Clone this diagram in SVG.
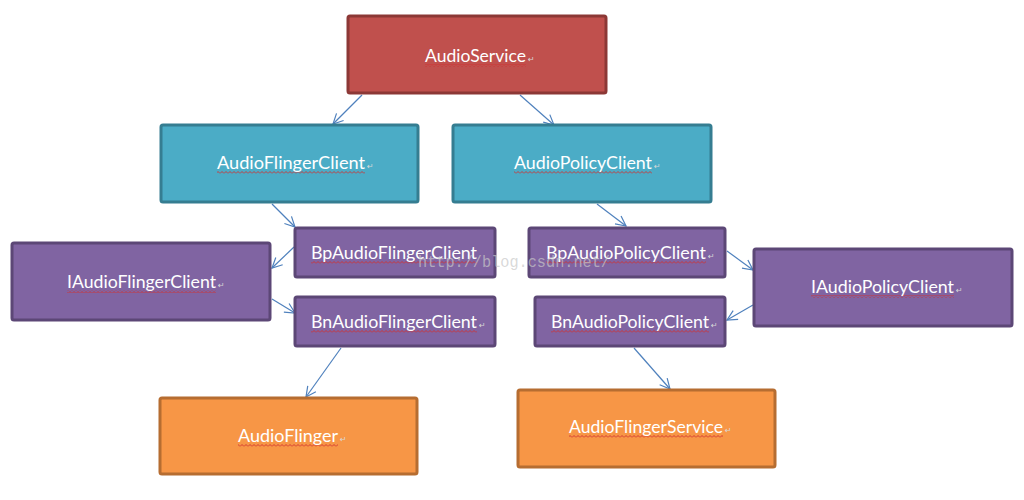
<svg xmlns="http://www.w3.org/2000/svg" width="1024" height="500" viewBox="0 0 1024 500">
<style>
.box{stroke-width:3}
.red{fill:#C0504D;stroke:#8C3836}
.teal{fill:#4BACC6;stroke:#357D91}
.purple{fill:#8064A2;stroke:#5C4776}
.orange{fill:#F79646;stroke:#B66D31}
.lbl{font-family:Lato,"Open Sans","Liberation Sans",sans-serif;font-size:17px;fill:#FFFFFF}
.pm{font-family:"DejaVu Sans",sans-serif;font-size:8px;fill:#D8D8D8}
.conn{stroke:#4F81BD;stroke-width:1.2;fill:none;marker-end:url(#arr)}
.wm{font-family:"Liberation Mono",monospace;font-size:17px;fill:#C8C8C8;fill-opacity:0.7}
</style>
<defs>
<marker id="arr" viewBox="0 0 12 12" refX="11" refY="6" markerWidth="12" markerHeight="12" markerUnits="userSpaceOnUse" orient="auto">
<path d="M1,1 L11,6 L1,11" fill="none" stroke="#4F81BD" stroke-width="1.2"/>
</marker>
<pattern id="wavy" width="4" height="3" patternUnits="userSpaceOnUse">
<path d="M0,2.5 L2,0.5 L4,2.5" fill="none" stroke="#D03030" stroke-width="0.9"/>
</pattern>
</defs>
<rect width="1024" height="500" fill="#FFFFFF"/>
<g id="connectors">
<line class="conn" x1="362" y1="95" x2="333" y2="124"/>
<line class="conn" x1="520" y1="95" x2="554" y2="125"/>
<line class="conn" x1="272" y1="204" x2="295" y2="227"/>
<line class="conn" x1="294" y1="247" x2="272" y2="268"/>
<line class="conn" x1="272" y1="299" x2="295" y2="313"/>
<line class="conn" x1="341" y1="348" x2="306" y2="397"/>
<line class="conn" x1="597" y1="204" x2="626" y2="226"/>
<line class="conn" x1="727" y1="251" x2="753" y2="270"/>
<line class="conn" x1="753" y1="305" x2="727" y2="320"/>
<line class="conn" x1="634" y1="348" x2="670" y2="389"/>
</g>
<g id="AudioService">
<rect class="box red" x="348" y="16" width="258" height="77" rx="2"/>
<rect x="425" y="64" width="101" height="3" fill="url(#wavy)"/>
<text class="lbl" x="425" y="62" textLength="101" lengthAdjust="spacingAndGlyphs">AudioService</text>
<text class="pm" x="528" y="62">↵</text>
</g>
<g id="AudioFlingerClient">
<rect class="box teal" x="161" y="125" width="257" height="77" rx="2"/>
<rect x="217" y="171" width="148" height="3" fill="url(#wavy)"/>
<text class="lbl" x="217" y="169" textLength="148" lengthAdjust="spacingAndGlyphs">AudioFlingerClient</text>
<text class="pm" x="367" y="169">↵</text>
</g>
<g id="AudioPolicyClient">
<rect class="box teal" x="453" y="125" width="258" height="77" rx="2"/>
<rect x="514" y="171" width="138" height="3" fill="url(#wavy)"/>
<text class="lbl" x="514" y="169" textLength="138" lengthAdjust="spacingAndGlyphs">AudioPolicyClient</text>
<text class="pm" x="654" y="169">↵</text>
</g>
<g id="IAudioFlingerClient">
<rect class="box purple" x="12" y="243" width="258" height="77" rx="2"/>
<rect x="67" y="290" width="149" height="3" fill="url(#wavy)"/>
<text class="lbl" x="67" y="288" textLength="149" lengthAdjust="spacingAndGlyphs">IAudioFlingerClient</text>
<text class="pm" x="218" y="288">↵</text>
</g>
<g id="BpAudioFlingerClient">
<rect class="box purple" x="295" y="228" width="200" height="49" rx="2"/>
<rect x="311" y="261" width="166" height="3" fill="url(#wavy)"/>
<text class="lbl" x="311" y="259" textLength="166" lengthAdjust="spacingAndGlyphs">BpAudioFlingerClient</text>
</g>
<g id="BnAudioFlingerClient">
<rect class="box purple" x="295" y="297" width="200" height="49" rx="2"/>
<rect x="311" y="330" width="166" height="3" fill="url(#wavy)"/>
<text class="lbl" x="311" y="328" textLength="166" lengthAdjust="spacingAndGlyphs">BnAudioFlingerClient</text>
<text class="pm" x="479" y="328">↵</text>
</g>
<g id="BpAudioPolicyClient">
<rect class="box purple" x="529" y="228" width="196" height="49" rx="2"/>
<rect x="546" y="261" width="160" height="3" fill="url(#wavy)"/>
<text class="lbl" x="546" y="259" textLength="160" lengthAdjust="spacingAndGlyphs">BpAudioPolicyClient</text>
<text class="pm" x="708" y="259">↵</text>
</g>
<g id="BnAudioPolicyClient">
<rect class="box purple" x="535" y="297" width="190" height="49" rx="2"/>
<rect x="551" y="330" width="158" height="3" fill="url(#wavy)"/>
<text class="lbl" x="551" y="328" textLength="158" lengthAdjust="spacingAndGlyphs">BnAudioPolicyClient</text>
<text class="pm" x="711" y="328">↵</text>
</g>
<g id="IAudioPolicyClient">
<rect class="box purple" x="754" y="249" width="258" height="77" rx="2"/>
<rect x="811" y="295" width="143" height="3" fill="url(#wavy)"/>
<text class="lbl" x="811" y="293" textLength="143" lengthAdjust="spacingAndGlyphs">IAudioPolicyClient</text>
<text class="pm" x="956" y="293">↵</text>
</g>
<g id="AudioFlinger">
<rect class="box orange" x="160" y="398" width="257" height="76" rx="2"/>
<rect x="238" y="444" width="100" height="3" fill="url(#wavy)"/>
<text class="lbl" x="238" y="442" textLength="100" lengthAdjust="spacingAndGlyphs">AudioFlinger</text>
<text class="pm" x="340" y="442">↵</text>
</g>
<g id="AudioFlingerService">
<rect class="box orange" x="518" y="390" width="257" height="77" rx="2"/>
<rect x="569" y="435" width="154" height="3" fill="url(#wavy)"/>
<text class="lbl" x="569" y="433" textLength="154" lengthAdjust="spacingAndGlyphs">AudioFlingerService</text>
<text class="pm" x="725" y="433">↵</text>
</g>
<text class="wm" x="418" y="267" textLength="192" lengthAdjust="spacingAndGlyphs">http://blog.csdn.net/</text>
</svg>
